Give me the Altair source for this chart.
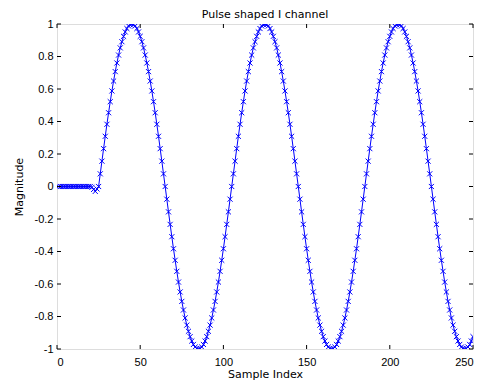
import altair as alt
import pandas as pd

# Values (samples 1..250)
lead = [0.0] * 20 + [-0.005, -0.018, -0.03, -0.015, 0.0]          # samples 1..25
rise = [0.078, 0.156, 0.233, 0.309, 0.383, 0.454, 0.522, 0.588, 0.649, 0.707,
        0.760, 0.809, 0.853, 0.891, 0.924, 0.951, 0.972, 0.988, 0.997, 1.0]
fall = [0.997, 0.988, 0.972, 0.951, 0.924, 0.891, 0.853, 0.809, 0.760, 0.707,
        0.649, 0.588, 0.522, 0.454, 0.383, 0.309, 0.233, 0.156, 0.078, 0.0]
dip = [-0.078, -0.156, -0.233, -0.309, -0.383, -0.454, -0.522, -0.588, -0.649, -0.707,
       -0.760, -0.809, -0.853, -0.891, -0.924, -0.951, -0.972, -0.988, -0.997, -1.0]
recover = [-0.997, -0.988, -0.972, -0.951, -0.924, -0.891, -0.853, -0.809, -0.760, -0.707,
           -0.649, -0.588, -0.522, -0.454, -0.383, -0.309, -0.233, -0.156, -0.078, 0.0]
tail = [-0.997, -0.988, -0.972, -0.951, -0.924]

magnitude = lead + rise + fall + dip + recover + rise + fall + dip + recover + rise + fall + dip + tail
samples = list(range(1, len(magnitude) + 1))

x_ticks = [0, 50, 100, 150, 200, 250]
y_ticks = [-1, -0.8, -0.6, -0.4, -0.2, 0, 0.2, 0.4, 0.6, 0.8, 1]

W, H = 416, 325
BLUE = "#0000ff"
LABEL_FONT = "Liberation Sans"
TITLE_FONT = "DejaVu Sans"

df = pd.DataFrame({"sample": samples, "magnitude": magnitude})
xt = pd.DataFrame({"sample": x_ticks})
yt = pd.DataFrame({"magnitude": y_ticks})

xscale = alt.Scale(domain=[0, 250], nice=False, zero=False)
yscale = alt.Scale(domain=[-1, 1], nice=False, zero=False)

xaxis = alt.Axis(values=x_ticks, title="Sample Index", ticks=False, domain=False, grid=False,
                 labelOverlap=False, labelPadding=7, titlePadding=1,
                 labelFontSize=11, titleFontSize=11,
                 labelFont=LABEL_FONT, titleFont=TITLE_FONT,
                 labelColor="black", titleColor="black", titleFontWeight="normal")
yaxis = alt.Axis(values=y_ticks, title="Magnitude", ticks=False, domain=False, grid=False,
                 labelOverlap=False, labelExpr="'' + datum.value", labelPadding=4, titlePadding=10,
                 labelFontSize=11, titleFontSize=11,
                 labelFont=LABEL_FONT, titleFont=TITLE_FONT,
                 labelColor="black", titleColor="black", titleFontWeight="normal")

base = alt.Chart(df).encode(
    x=alt.X("sample:Q", scale=xscale, axis=xaxis),
    y=alt.Y("magnitude:Q", scale=yscale, axis=yaxis),
)
line = base.mark_line(color=BLUE, strokeWidth=1, clip=True)
pts = base.mark_point(shape="M-1,-1L1,1M-1,1L1,-1", filled=False, stroke=BLUE,
                      strokeWidth=1, size=26, opacity=1, clip=True)

xb = alt.Chart(xt).mark_rule(color="black", strokeWidth=1).encode(
    x=alt.X("sample:Q", scale=xscale, axis=xaxis), y=alt.value(H), y2=alt.value(H - 4))
xtop = alt.Chart(xt).mark_rule(color="black", strokeWidth=1).encode(
    x=alt.X("sample:Q", scale=xscale, axis=xaxis), y=alt.value(0), y2=alt.value(4))
yl = alt.Chart(yt).mark_rule(color="black", strokeWidth=1).encode(
    y=alt.Y("magnitude:Q", scale=yscale, axis=yaxis), x=alt.value(0), x2=alt.value(4))
yr = alt.Chart(yt).mark_rule(color="black", strokeWidth=1).encode(
    y=alt.Y("magnitude:Q", scale=yscale, axis=yaxis), x=alt.value(W - 4), x2=alt.value(W))

chart = alt.layer(line, pts, xb, xtop, yl, yr).properties(
    width=W, height=H,
    title=alt.TitleParams("Pulse shaped I channel", fontSize=11, fontWeight="normal",
                          font=TITLE_FONT, color="black", offset=-2),
    autosize=alt.AutoSizeParams(type="none"),
    padding={"left": 49, "top": 16, "right": 6, "bottom": 32},
).configure_view(stroke="black", strokeWidth=1).configure(background="white")

chart.save("out.html", embed_options={"renderer": "svg", "actions": False})
